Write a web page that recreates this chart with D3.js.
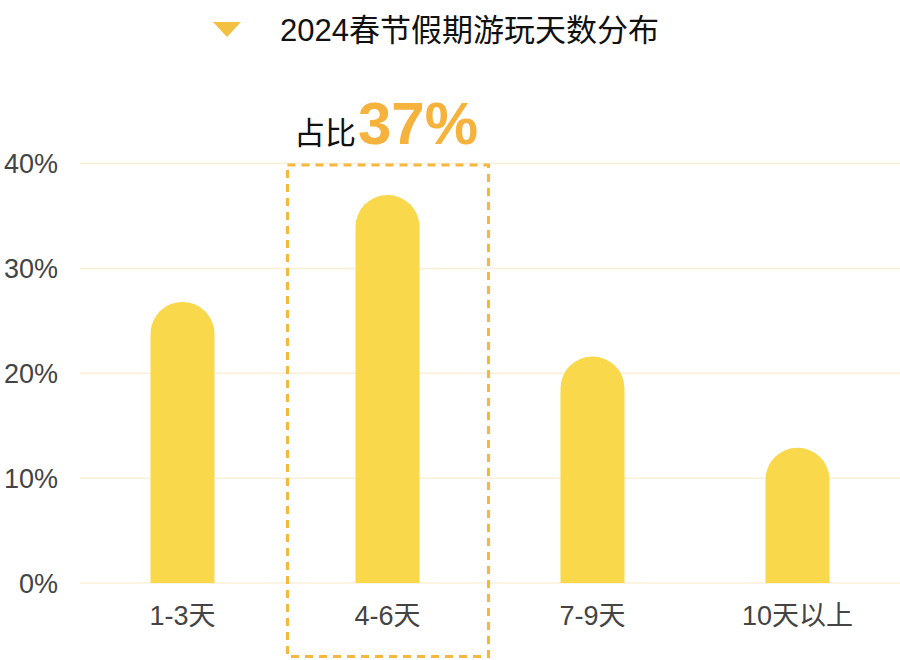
<!DOCTYPE html>
<html><head><meta charset="utf-8">
<script src="https://cdn.jsdelivr.net/npm/d3@7"></script>
<style>body{margin:0;background:#fff}svg{display:block}text{font-family:"Liberation Sans","Noto Sans CJK SC",sans-serif}</style>
</head><body><svg id="c" width="900" height="660"></svg>
<script>
const categories = ["1-3天","4-6天","7-9天","10天以上"];
const values = [26.8, 37.0, 21.6, 12.9];
const yTicks = [0, 10, 20, 30, 40];
const title = "2024春节假期游玩天数分布";
const highlightIndex = 1;
const highlightPrefix = "占比";
const highlightValue = "37%";

const svg = d3.select("#c");
const x = d3.scaleBand().domain(categories).range([80, 900]).padding(0);
const y = d3.scaleLinear().domain([0, 40]).range([583, 163.5]);
const barW = 64;

// grid
svg.append("g").selectAll("line").data(yTicks).join("line")
  .attr("x1", 80).attr("x2", 900)
  .attr("y1", d => y(d)).attr("y2", d => y(d))
  .attr("stroke", "#FCEFD9").attr("stroke-width", 1.5);

// y labels
svg.append("g").selectAll("text").data(yTicks).join("text")
  .attr("x", 58).attr("y", d => y(d)).attr("dy", "0.36em")
  .attr("text-anchor", "end").attr("font-size", 27).attr("fill", "#444")
  .text(d => d + "%");

// bars with rounded top
svg.append("g").selectAll("path").data(values).join("path")
  .attr("fill", "#F9D84B")
  .attr("d", (d, i) => {
    const cx = x(categories[i]) + x.bandwidth() / 2;
    const x0 = cx - barW / 2, x1 = cx + barW / 2;
    const top = y(d), bot = y(0), r = barW / 2;
    return `M${x0},${bot}L${x0},${top + r}A${r},${r} 0 0 1 ${x1},${top + r}L${x1},${bot}Z`;
  });

// x labels
svg.append("g").selectAll("text").data(categories).join("text")
  .attr("x", d => x(d) + x.bandwidth() / 2).attr("y", 625)
  .attr("text-anchor", "middle").attr("font-size", 27).attr("fill", "#444")
  .text(d => d);

// highlight dashed box
const hx = x(categories[highlightIndex]) + x.bandwidth() / 2;
svg.append("rect")
  .attr("x", hx - 100).attr("y", 165).attr("width", 201).attr("height", 491.5)
  .attr("fill", "none").attr("stroke", "#F6B73E").attr("stroke-width", 3)
  .attr("stroke-dasharray", "8,6");

// annotation
const ann = svg.append("text").attr("x", 294).attr("y", 144);
ann.append("tspan").attr("font-size", 31).attr("fill", "#111").text(highlightPrefix);
ann.append("tspan").attr("font-size", 60).attr("font-weight", "bold").attr("fill", "#F5B23D").attr("dx", 2).text(highlightValue);

// legend
svg.append("path").attr("d", "M213,22L241,22L227,37Z").attr("fill", "#F2C141");
svg.append("text").attr("x", 280).attr("y", 30).attr("dy", "0.36em")
  .attr("font-size", 31).attr("fill", "#111").text(title);
</script></body></html>
